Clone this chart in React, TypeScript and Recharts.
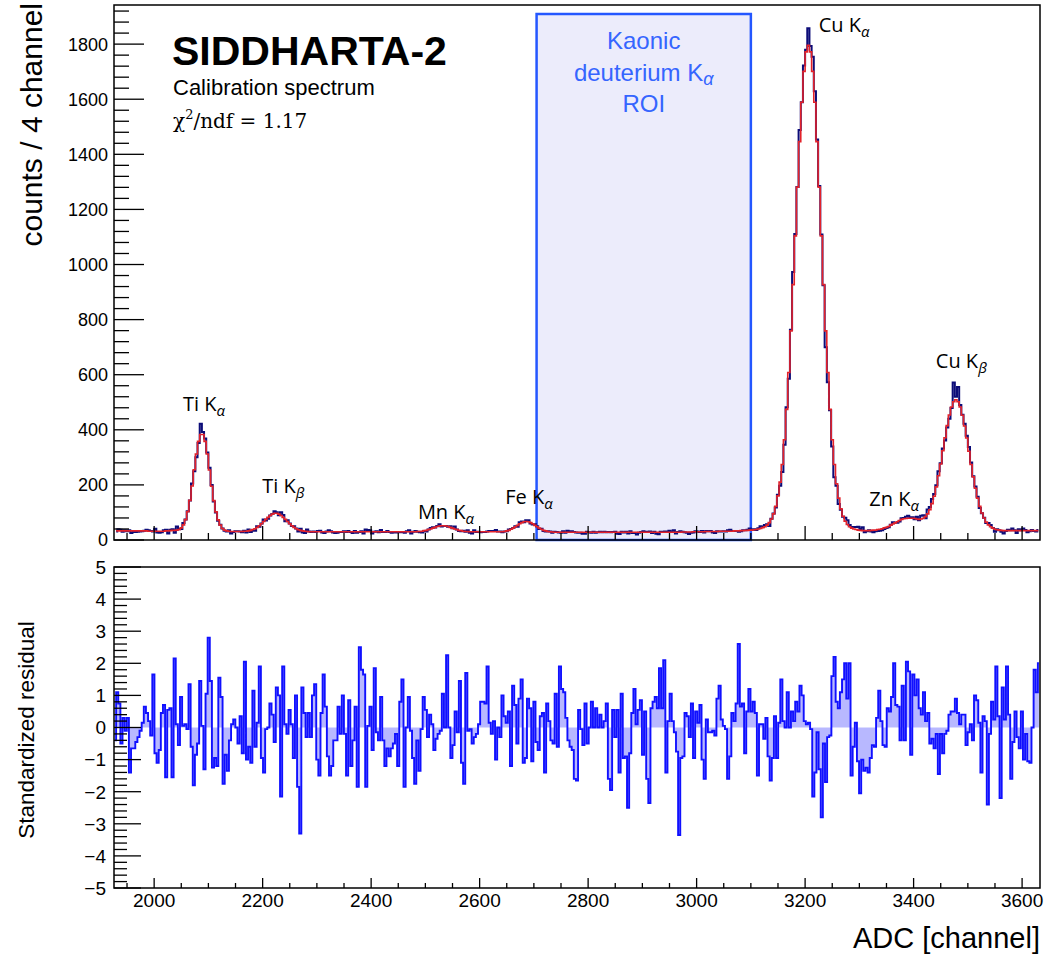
import React from 'react';
import {
  ComposedChart,
  Line,
  Area,
  XAxis,
  YAxis,
  ReferenceArea,
  ReferenceDot,
} from 'recharts';

// ADC window shown in both pads
const X_MIN = 1926;
const X_MAX = 3633;
const Y_MAX = 1942;
const BIN_START = 1928;
const BIN_WIDTH = 4;

// measured spectrum, counts per 4-channel bin (bins start at 1928)
const counts = [
  31, 39, 37, 30, 35, 32, 35, 25, 29, 29,
  30, 31, 32, 34, 37, 35, 33, 31, 41, 27,
  26, 28, 35, 37, 24, 37, 39, 26, 49, 39,
  40, 62, 74, 104, 143, 205, 250, 300, 352, 422,
  392, 368, 318, 262, 200, 140, 100, 70, 55, 42,
  34, 31, 35,
  24, 29, 32, 32, 31, 28, 34, 27, 38, 29,
  34, 34, 50, 48, 60, 74, 71, 77, 89, 94,
  104, 101, 90, 101, 91, 68, 72, 60, 51, 50,
  42, 31, 41, 27, 25, 38,
  31, 29, 31, 29, 33, 34, 27, 25, 31, 35,
  32, 27, 25, 26, 29, 29, 32, 29, 33, 29,
  25, 33, 26, 29, 32, 24, 38, 36, 35, 24,
  30, 32, 28, 36, 29, 29, 33, 29, 26, 28,
  27, 28, 28, 29, 26, 32, 35, 24, 30, 33,
  30, 28, 27, 33, 31, 38, 44, 46, 45, 51,
  57, 49, 51, 51, 48, 50, 43, 49, 38, 33,
  32, 34, 30, 35,
  26, 24, 35, 29, 30, 28, 29, 29, 31, 33,
  33, 33, 36, 31,
  31, 28, 31, 32, 38, 40, 44, 50, 48, 64,
  67, 64, 72, 72, 60, 56, 57, 50, 40, 41,
  33, 31, 32, 31, 26,
  30, 29, 27, 26, 32, 26, 34, 32, 32, 29,
  27, 26, 26, 23, 23, 30, 28, 26, 30, 26,
  28, 30, 28, 30, 28, 29, 28, 29, 30, 23,
  22, 30, 27, 30, 24, 32, 25, 25, 20, 26,
  29, 32, 29, 30, 31, 25, 30, 23, 21, 30,
  30, 31, 30, 34, 30, 35, 24, 29, 32,
  30, 28, 26, 22, 26, 27, 32, 31, 29, 33,
  27, 33, 32, 33, 27, 25, 32, 31, 31, 32,
  31, 35, 37, 33, 33,
  33, 30, 32, 35, 35, 37, 42, 37, 39, 36,
  43, 50, 48, 54, 57, 51, 77, 96, 118, 164,
  197, 247, 346, 482, 585, 763, 973, 1111, 1281, 1488,
  1589, 1722, 1780, 1858, 1793, 1754, 1629, 1454, 1285, 1109,
  925, 700, 573, 471, 339, 228, 197, 131, 110, 84,
  81, 72, 54, 47, 47, 47, 48, 40, 46,
  28, 32, 35, 31, 28, 32, 33, 34, 35, 40,
  44, 46, 55, 64, 63, 63, 67, 79, 80, 84,
  88, 83, 83, 75, 84, 72, 88, 90, 79, 111,
  120, 149, 167, 199, 250, 279, 332, 361, 408, 440,
  479, 572, 520, 555, 490, 455, 422, 378, 338, 281,
  231, 194, 157, 116, 97, 81, 62, 62, 54, 44,
  30, 39, 35, 30, 24, 33, 37, 35, 42, 35,
  25, 39, 35, 42, 36, 28, 32, 36, 33, 31,
  36,
];

// fitted model, same bins
const fitCounts = [
  33, 33, 33, 33, 33, 33, 33, 33, 33, 33,
  33, 33, 33, 33, 33, 32, 32, 32, 32, 32,
  32, 32, 32, 33, 33, 34, 35, 35, 36, 38,
  44, 55, 74, 103, 144, 196, 255, 312, 358, 383,
  383, 358, 312, 254, 195, 143, 102, 73, 54, 42,
  36, 33, 32,
  31, 31, 31, 31, 31, 31, 32, 32, 33, 35,
  38, 41, 46, 52, 59, 67, 75, 82, 89, 94,
  97, 97, 94, 89, 82, 75, 67, 59, 52, 46,
  41, 37, 35, 33, 32, 31,
  30, 30, 30, 30, 30, 30, 30, 30, 30, 30,
  30, 30, 30, 30, 30, 30, 30, 30, 30, 30,
  30, 30, 30, 30, 30, 30, 30, 30, 30, 30,
  30, 30, 30, 30, 30, 30, 30, 30, 30, 30,
  30, 30, 30, 30, 30, 30, 30, 30, 30, 30,
  31, 31, 32, 34, 35, 38, 40, 43, 46, 49,
  51, 52, 52, 51, 49, 46, 43, 40, 38, 35,
  34, 32, 31, 31,
  30, 30, 30, 30, 30, 30, 30, 30, 30, 30,
  30, 30, 30, 30,
  30, 30, 31, 33, 35, 39, 43, 48, 53, 59,
  63, 66, 67, 66, 63, 59, 53, 48, 43, 39,
  35, 33, 31, 30, 29,
  28, 28, 28, 28, 28, 28, 28, 28, 28, 28,
  28, 28, 28, 28, 28, 28, 28, 28, 28, 28,
  28, 28, 28, 28, 28, 28, 28, 28, 28, 28,
  28, 28, 28, 28, 28, 28, 28, 28, 28, 28,
  28, 28, 28, 28, 28, 28, 28, 28, 28, 28,
  28, 28, 28, 28, 28, 28, 28, 28, 28,
  29, 29, 29, 29, 29, 30, 30, 30, 30, 30,
  30, 31, 31, 31, 31, 31, 31, 32, 32, 32,
  32, 32, 32, 32, 33,
  33, 33, 34, 34, 35, 35, 36, 36, 37, 38,
  40, 42, 45, 48, 54, 63, 76, 95, 122, 160,
  210, 274, 364, 474, 608, 759, 927, 1104, 1281, 1446,
  1589, 1701, 1772, 1796, 1772, 1701, 1589, 1446, 1281, 1104,
  927, 759, 608, 474, 364, 274, 204, 152, 113, 86,
  68, 56, 48, 43, 40, 38, 36, 35, 34,
  34, 34, 34, 35, 36, 36, 38, 39, 41, 44,
  46, 49, 54, 58, 62, 66, 71, 75, 77, 78,
  79, 79, 79, 78, 76, 75, 76, 79, 85, 95,
  110, 132, 159, 193, 233, 276, 324, 371, 415, 454,
  483, 502, 509, 502, 483, 453, 414, 370, 322, 274,
  229, 188, 152, 122, 98, 80, 65, 55, 48, 43,
  39, 37, 36, 35, 34, 34, 34, 34, 34, 34,
  34, 34, 34, 34, 34, 34, 34, 34, 34, 34,
  34,
];

// standardized residuals, read left to right across the lower pad
const residuals = [
  -0.4, 1.1, 0.75, -0.5, 0.3, -0.1, 0.3, -1.4, -0.65, -0.65,
  -0.45, -0.3, -0.1, 0.15, 0.65, 0.45, 0.2, -0.25, 1.65, -0.8,
  -1.1, -0.7, 0.45, 0.7, -1.55, 0.55, 0.6, -1.55, 2.15, 0.1,
  -0.55, 0.95, 0.05, 0.1, -0.05, 1.35, -0.6, -1.8, -0.85, -0.5,
  1.45, 0.05, -1.3, 1.05, 2.8, 1.45, -1.25, -0.95, -1.2, 1.55,
  0.95, -1.75, -0.85, -1.35, -0.4, 0.1, 0.25, 0.0, -0.5, 0.35,
  -0.8, 2.05, -1.0, -0.6, -1.1, 1.15, -0.6, 0.15, 1.9, -0.95,
  -1.4, -0.05, 0.0, 0.75, 0.4, -0.45, 1.25, 1.0, -2.15, 1.9,
  0.1, -0.2, 0.55, 0.1, -0.95, 1.0, -1.85, -3.3, 1.25, 0.45,
  -0.3, 0.45, -0.3, 1.0, 1.35, -1.0, -1.5, 0.45, 1.65, 0.65,
  -0.9, -1.5, -1.2, -0.4, -0.4, 0.65, -0.2, 1.0, -0.2, -1.5,
  0.85, -1.2, -0.4, 0.65, -1.85, 2.5, 1.8, 1.65, -1.85, 0.05,
  0.65, -0.7, 1.85, -0.15, -0.4, 0.95, -0.4, -1.2, -0.65, -0.9,
  -0.65, -0.5, -0.2, -1.2, 0.8, 1.5, -1.85, 0.0, 0.95, -0.1,
  -0.95, -1.75, -0.4, -1.35, -0.05, 0.95, 0.55, -0.3, 0.4, 0.1,
  -0.7, -0.35, -0.2, -0.1, 1.05, 0.0, 2.25, 0.0, -0.95, -0.55,
  0.5, -0.15, 1.45, -1.1, -1.75, 1.7, -0.1, -0.05, -0.5, -0.3,
  -0.2, 0.1, 0.8, 0.8, 0.75, 1.9, 0.15, -0.2,
  0.2, -1.0, 0.0, -0.3, 1.0, 0.35, 0.15, 0.5, -1.2, 1.3,
  0.7, -0.5, 0.9, 1.5, -1.1, -0.95, 0.9, 0.6, -1.05, 0.8,
  -0.45, -0.7, 0.35, 0.45, -1.4, 0.75, 0.2, -0.4, -0.5, 1.05,
  -0.6, 1.9, 1.2, 1.1, 0.3, -0.4, -0.6, -0.7, -1.6, -1.65,
  0.55, -0.05, -0.55, 0.75, -0.5, 0.0, 0.8, 0.0, 0.6, 0.0,
  0.4, 0.0, 0.2, 0.75, -1.6, -1.95, 0.55, -0.3, 0.55, -1.4,
  1.05, -0.95, -0.9, -2.5, -0.8, 0.45, 1.2, 0.1, 0.55, 0.85,
  -0.85, 0.5, -1.6, -2.35, 0.6, 0.8, 0.95, 0.6, 1.85, 0.6,
  2.1, -1.4, 0.2, 1.05, 0.2, -0.15, -0.75, -3.35, -0.95, -0.9,
  0.45, 0.35, -0.3, 0.75, -0.95, 0.5, 0.15, 0.7, -1.0, -1.6,
  0.25, -0.15, -0.15, -0.1, -0.25, 0.9, 1.3, 0.25, 0.05, -0.05,
  -1.6, -0.9, 0.45, 0.2, 0.75, 2.6, 0.65, 0.75, -0.8, 0.5,
  1.2, 0.5, 0.8, 0.45, -1.5, 0.1, 0.1, -0.35, 0.3, -0.9,
  -1.65, -0.95, 0.35, -0.95, 0.15, 1.5, 0.2, 0.0, 1.1, 0.0,
  0.5, 0.2, 0.8, 0.5, 1.3, 1.0, 0.2, 0.1, 0.15, -0.05,
  -2.15, -1.4, -0.15, -1.3, -2.8, -0.5, -1.7, -0.3, -0.25, 1.6,
  2.2, 0.8, 0.6, 1.1, 1.5, 2.0, 0.9, 2.0, -1.5, -0.6,
  0.15, -1.05, -2.05, -1.0, -1.35, -1.25, -1.4, -0.95, -0.55, -0.6,
  0.3, 1.15, 0.2, -0.55, -0.6, 0.6, 0.5, 0.95, 2.0, 0.7,
  0.65, -0.4, 1.3, -0.4, 2.05, 1.75, -0.85, 1.65, 1.0, 1.5,
  0.6, 0.4, 1.1, 0.2, 0.45, -0.5, -0.35, -0.65, -0.2, -1.45,
  -0.2, -0.8, -0.2, -0.1, 0.4, 0.5, 0.5, 0.9, 0.45, 0.1,
  0.4, 0.4, -0.55, -0.15, 0.1, -0.4, 1.0, 0.85, 0.15, -1.4,
  0.35, 0.2, -2.4, -0.2, 0.8, 0.25, 1.9, 0.35, -2.2, 1.25,
  0.25, 1.9, 0.4, -1.6, -0.45, 0.5, -0.3, -0.65, 0.5, -1.0,
  -0.2, -1.05, -1.1, 0.0, 1.8, 1.1, 2.0,
];

// axis ticks
const adcLabels = [2000, 2200, 2400, 2600, 2800, 3000, 3200, 3400, 3600];
const countLabels = [0, 200, 400, 600, 800, 1000, 1200, 1400, 1600, 1800];
const residualLabels = [-5, -4, -3, -2, -1, 0, 1, 2, 3, 4, 5];
const adcTicks = Array.from({ length: 34 }, (_, k) => 1950 + 50 * k);
const countTicks = Array.from({ length: 49 }, (_, k) => 40 * k);
const residualTicks = Array.from({ length: 51 }, (_, k) => (k - 25) / 5);

// peak annotations: text, subscript, anchor in (channel, counts)
const peakLabels = [
  { name: 'Ti K', sub: 'α', ch: 2092, y: 469 },
  { name: 'Ti K', sub: 'β', ch: 2238, y: 171 },
  { name: 'Mn K', sub: 'α', ch: 2538, y: 76 },
  { name: 'Fe K', sub: 'α', ch: 2691, y: 131 },
  { name: 'Cu K', sub: 'α', ch: 3272, y: 1844 },
  { name: 'Zn K', sub: 'α', ch: 3364, y: 124 },
  { name: 'Cu K', sub: 'β', ch: 3488, y: 625 },
];

const roi = { from: 2705, to: 3100, top: 1909 };

const spectrumRows = counts.map((c, i) => ({
  ch: BIN_START + BIN_WIDTH * (i + 0.5),
  counts: c,
  fit: fitCounts[i],
}));

const resWidth = (X_MAX - X_MIN) / residuals.length;
const residualRows = residuals.map((r, i) => ({
  ch: X_MIN + resWidth * (i + 0.5),
  res: r,
}));

const AXIS_FONT = '"Liberation Sans", Arial, Helvetica, sans-serif';
const LABEL_FONT = '"Open Sans", "Noto Sans", sans-serif';

function TopXTick(props: any) {
  const { x = 0, y = 0, payload } = props;
  const len = adcLabels.includes(payload.value) ? 14 : 7;
  return <line x1={x} y1={y} x2={x} y2={y - len} stroke="#000" strokeWidth={1.3} />;
}

function BottomXTick(props: any) {
  const { x = 0, y = 0, payload } = props;
  const major = adcLabels.includes(payload.value);
  return (
    <g>
      <line x1={x} y1={y} x2={x} y2={y - (major ? 10 : 5)} stroke="#000" strokeWidth={1.3} />
      {major && (
        <text x={x} y={y + 19} textAnchor="middle" fontSize={19} fontFamily={AXIS_FONT} fill="#000">
          {payload.value}
        </text>
      )}
    </g>
  );
}

function CountTick(props: any) {
  const { x = 0, y = 0, payload } = props;
  const major = countLabels.includes(payload.value);
  return (
    <g>
      <line x1={x} y1={y} x2={x + (major ? 30 : 15)} y2={y} stroke="#000" strokeWidth={1.3} />
      {major && (
        <text x={x - 6} y={y} dy="0.36em" textAnchor="end" fontSize={18} fontFamily={AXIS_FONT} fill="#000">
          {payload.value}
        </text>
      )}
    </g>
  );
}

function ResidualTick(props: any) {
  const { x = 0, y = 0, payload } = props;
  const major = residualLabels.includes(payload.value);
  return (
    <g>
      <line x1={x} y1={y} x2={x + (major ? 27 : 13)} y2={y} stroke="#000" strokeWidth={1.3} />
      {major && (
        <text x={x - 8} y={y} dy="0.36em" textAnchor="end" fontSize={19} fontFamily={AXIS_FONT} fill="#000">
          {payload.value < 0 ? `\u2212${-payload.value}` : payload.value}
        </text>
      )}
    </g>
  );
}

function RoiLabel(props: any) {
  const vb = props.viewBox;
  if (!vb) return null;
  const cx = vb.x + vb.width / 2;
  return (
    <text textAnchor="middle" fill="#3565ff" fontSize={24} fontFamily={AXIS_FONT}>
      <tspan x={cx} y={vb.y + 35}>Kaonic</tspan>
      <tspan x={cx} y={vb.y + 67}>
        deuterium K<tspan fontStyle="italic" fontSize={18} dy={4}>α</tspan>
      </tspan>
      <tspan x={cx} y={vb.y + 98}>ROI</tspan>
    </text>
  );
}

function PeakLabel(props: any) {
  const vb = props.viewBox;
  if (!vb) return null;
  const x = vb.x + (vb.width || 0) / 2;
  const y = vb.y + (vb.height || 0) / 2;
  return (
    <text x={x} y={y} textAnchor="middle" fontSize={20} fontFamily={LABEL_FONT} fill="#000">
      {props.name}
      <tspan fontStyle="italic" fontSize={15} dy={5}>{props.sub}</tspan>
    </text>
  );
}

export default function App() {
  return (
    <div
      style={{
        position: 'absolute',
        left: 0,
        top: 0,
        width: 1045,
        height: 957,
        background: '#fff',
        overflow: 'hidden',
      }}
    >
      <div style={{ position: 'absolute', left: 0, top: 0 }}>
        <ComposedChart width={1045} height={560} data={spectrumRows} margin={{ top: 5, right: 5, bottom: 0, left: 0 }}>
          <XAxis
            dataKey="ch"
            type="number"
            domain={[X_MIN, X_MAX]}
            allowDataOverflow
            ticks={adcTicks}
            interval={0}
            tickSize={0}
            tickMargin={0}
            axisLine={false}
            tickLine={false}
            tick={<TopXTick />}
            height={20}
          />
          <YAxis
            type="number"
            domain={[0, Y_MAX]}
            allowDataOverflow
            ticks={countTicks}
            interval={0}
            tickSize={0}
            tickMargin={0}
            axisLine={false}
            tickLine={false}
            tick={<CountTick />}
            width={114}
          />
          <ReferenceArea
            x1={roi.from}
            x2={roi.to}
            y1={0}
            y2={roi.top}
            fill="#2a2ad0"
            fillOpacity={0.09}
            stroke="#2457ff"
            strokeWidth={2.5}
            label={<RoiLabel />}
          />
          <Line
            dataKey="counts"
            type="step"
            stroke="#0c0c78"
            strokeWidth={2}
            dot={false}
            isAnimationActive={false}
          />
          <Line
            dataKey="fit"
            type="step"
            stroke="#e3222a"
            strokeWidth={1.6}
            dot={false}
            isAnimationActive={false}
          />
          {peakLabels.map((p) => (
            <ReferenceDot
              key={p.name + p.sub + p.ch}
              x={p.ch}
              y={p.y}
              r={0.5}
              fill="none"
              stroke="none"
              label={<PeakLabel name={p.name} sub={p.sub} />}
            />
          ))}
        </ComposedChart>
      </div>

      <div style={{ position: 'absolute', left: 0, top: 557 }}>
        <ComposedChart width={1045} height={400} data={residualRows} margin={{ top: 10, right: 5, bottom: 0, left: 0 }}>
          <XAxis
            dataKey="ch"
            type="number"
            domain={[X_MIN, X_MAX]}
            allowDataOverflow
            ticks={adcTicks}
            interval={0}
            tickSize={0}
            tickMargin={0}
            axisLine={false}
            tickLine={false}
            tick={<BottomXTick />}
            height={69}
          />
          <YAxis
            type="number"
            domain={[-5, 5]}
            allowDataOverflow
            ticks={residualTicks}
            interval={0}
            tickSize={0}
            tickMargin={0}
            axisLine={false}
            tickLine={false}
            tick={<ResidualTick />}
            width={114}
          />
          <Area
            dataKey="res"
            type="step"
            baseValue={0}
            stroke="#1010ff"
            strokeWidth={1.9}
            fill="#0000ff"
            fillOpacity={0.28}
            isAnimationActive={false}
          />
        </ComposedChart>
      </div>

      <svg
        width={1045}
        height={957}
        style={{ position: 'absolute', left: 0, top: 0, pointerEvents: 'none' }}
      >
        <rect x={114} y={5} width={926} height={535} fill="none" stroke="#000" strokeWidth={1.5} />
        <rect x={114} y={567} width={926} height={321} fill="none" stroke="#000" strokeWidth={1.5} />

        <text x={172} y={65} fontSize={41} fontWeight="bold" fontFamily={AXIS_FONT} fill="#000">
          SIDDHARTA-2
        </text>
        <text x={173} y={95} fontSize={22} fontFamily={AXIS_FONT} fill="#000">
          Calibration spectrum
        </text>
        <text x={173} y={128} fontSize={20} fontFamily='"DejaVu Serif", serif' fill="#000">
          χ<tspan fontSize={13} dy={-9}>2</tspan>
          <tspan dy={9}>/ndf = 1.17</tspan>
        </text>

        <text
          transform="translate(42, 3) rotate(-90)"
          textAnchor="end"
          fontSize={30}
          fontFamily={AXIS_FONT}
          fill="#000"
        >
          counts / 4 channel
        </text>
        <text
          transform="translate(34, 730) rotate(-90)"
          textAnchor="middle"
          fontSize={22.5}
          fontFamily={AXIS_FONT}
          fill="#000"
        >
          Standardized residual
        </text>
        <text x={1040} y={948} textAnchor="end" fontSize={29} fontFamily={AXIS_FONT} fill="#000">
          ADC [channel]
        </text>
      </svg>
    </div>
  );
}
